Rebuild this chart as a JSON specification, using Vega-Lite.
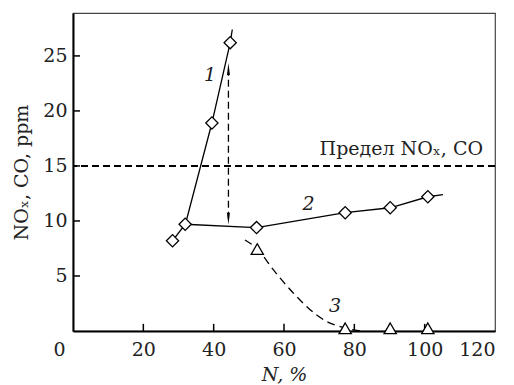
{
  "$schema": "https://vega.github.io/schema/vega-lite/v6.json",
  "width": 422,
  "height": 318,
  "autosize": {"type": "none"},
  "padding": {"left": 73, "top": 13, "right": 19, "bottom": 54},
  "background": "white",
  "config": {
    "font": "DejaVu Serif",
    "view": {"stroke": "#444", "strokeWidth": 1.2},
    "axis": {
      "grid": false,
      "ticks": false,
      "domainColor": "black",
      "domainWidth": 2,
      "labelFont": "DejaVu Serif",
      "labelFontSize": 19,
      "labelColor": "#222",
      "titleFont": "DejaVu Serif",
      "titleFontSize": 19,
      "titleFontWeight": "normal",
      "titleColor": "#222"
    }
  },
  "datasets": {
    "lines": [
      {"curve": "1", "N": 32.2, "v": 10.0},
      {"curve": "1", "N": 39.5, "v": 18.9},
      {"curve": "1", "N": 44.7, "v": 26.2},
      {"curve": "1", "N": 45.3, "v": 27.4},
      {"curve": "2", "N": 28.3, "v": 8.2},
      {"curve": "2", "N": 31.9, "v": 9.7},
      {"curve": "2", "N": 52.2, "v": 9.4},
      {"curve": "2", "N": 77.4, "v": 10.75},
      {"curve": "2", "N": 90.2, "v": 11.2},
      {"curve": "2", "N": 100.9, "v": 12.2},
      {"curve": "2", "N": 105.2, "v": 12.4}
    ],
    "curve3": [
      {"N": 48.9, "v": 8.27},
      {"N": 52.4, "v": 7.45},
      {"N": 57.0, "v": 5.55},
      {"N": 62.7, "v": 3.43},
      {"N": 69.3, "v": 1.45},
      {"N": 72.6, "v": 0.79},
      {"N": 76.0, "v": 0.39},
      {"N": 81.7, "v": 0.0}
    ],
    "diamonds": [
      {"N": 28.3, "v": 8.2},
      {"N": 31.9, "v": 9.7},
      {"N": 39.5, "v": 18.9},
      {"N": 44.7, "v": 26.2},
      {"N": 52.2, "v": 9.4},
      {"N": 77.4, "v": 10.75},
      {"N": 90.2, "v": 11.2},
      {"N": 100.9, "v": 12.2}
    ],
    "triangles": [
      {"N": 52.4, "v": 7.45},
      {"N": 77.4, "v": 0.25},
      {"N": 90.2, "v": 0.25},
      {"N": 100.9, "v": 0.25}
    ],
    "xticks": [
      {"N": 20, "v": 0, "v2": 0.65},
      {"N": 40, "v": 0, "v2": 0.65},
      {"N": 60, "v": 0, "v2": 0.65},
      {"N": 80, "v": 0, "v2": 0.65},
      {"N": 100, "v": 0, "v2": 0.65}
    ],
    "yticks": [
      {"N": 0, "N2": 2.0, "v": 5},
      {"N": 0, "N2": 2.0, "v": 10},
      {"N": 0, "N2": 2.0, "v": 15},
      {"N": 0, "N2": 2.0, "v": 20},
      {"N": 0, "N2": 2.0, "v": 25}
    ],
    "arrow": [{"N": 44.2, "v": 10.2, "v2": 23.5}],
    "heads": [
      {"N": 44.2, "v": 23.8, "dir": "up"},
      {"N": 44.2, "v": 10.2, "dir": "down"}
    ],
    "labels": [
      {"N": 39.0, "v": 22.7, "t": "1"},
      {"N": 67.0, "v": 11.0, "t": "2"},
      {"N": 74.5, "v": 1.75, "t": "3"}
    ],
    "limit": [{"N": 116.6, "v": 16.0, "t": "Предел NOₓ, CO"}]
  },
  "layer": [
    {
      "data": {"name": "lines"},
      "mark": {"type": "rule", "strokeDash": [7, 4], "color": "black", "strokeWidth": 1.2},
      "encoding": {
        "y": {"datum": 15, "type": "quantitative", "scale": {"domain": [0, 28.9], "nice": false, "zero": false},
          "axis": {"values": [5, 10, 15, 20, 25], "labelPadding": 6,
            "title": "NOₓ, CO, ppm", "titlePadding": 11}}
      }
    },
    {
      "data": {"name": "lines"},
      "mark": {"type": "line", "color": "black", "strokeWidth": 1.3},
      "encoding": {
        "x": {"field": "N", "type": "quantitative", "scale": {"domain": [0, 120], "nice": false},
          "axis": {"values": [0, 20, 40, 60, 80, 100, 120], "labelPadding": 9,
            "labelOffset": {"condition": {"test": "datum.value == 0", "value": -20}, "value": 0},
            "title": "N, %", "titleFontStyle": "italic", "titlePadding": 6}},
        "y": {"field": "v", "type": "quantitative"},
        "detail": {"field": "curve"}
      }
    },
    {
      "data": {"name": "xticks"},
      "mark": {"type": "rule", "color": "black", "strokeWidth": 1.5},
      "encoding": {
        "x": {"field": "N", "type": "quantitative"},
        "y": {"field": "v", "type": "quantitative"},
        "y2": {"field": "v2"}
      }
    },
    {
      "data": {"name": "yticks"},
      "mark": {"type": "rule", "color": "black", "strokeWidth": 1.5},
      "encoding": {
        "x": {"field": "N", "type": "quantitative"},
        "x2": {"field": "N2"},
        "y": {"field": "v", "type": "quantitative"}
      }
    },
    {
      "data": {"name": "curve3"},
      "mark": {"type": "line", "color": "black", "strokeWidth": 1.3, "strokeDash": [8, 5], "interpolate": "monotone"},
      "encoding": {
        "x": {"field": "N", "type": "quantitative"},
        "y": {"field": "v", "type": "quantitative"}
      }
    },
    {
      "data": {"name": "arrow"},
      "mark": {"type": "rule", "color": "black", "strokeWidth": 1.3, "strokeDash": [7, 4]},
      "encoding": {
        "x": {"field": "N", "type": "quantitative"},
        "y": {"field": "v", "type": "quantitative"},
        "y2": {"field": "v2"}
      }
    },
    {
      "data": {"name": "heads"},
      "mark": {"type": "point", "filled": true, "color": "black", "opacity": 1, "size": 144},
      "encoding": {
        "x": {"field": "N", "type": "quantitative"},
        "y": {"field": "v", "type": "quantitative"},
        "shape": {"field": "dir", "type": "nominal", "legend": null,
          "scale": {"domain": ["up", "down"], "range": ["M0,-1L0.25,1L-0.25,1Z", "M0,1L0.25,-1L-0.25,-1Z"]}}
      }
    },
    {
      "data": {"name": "diamonds"},
      "mark": {"type": "point", "shape": "diamond", "filled": true, "fill": "white", "stroke": "black", "strokeWidth": 1.3, "size": 150, "opacity": 1},
      "encoding": {
        "x": {"field": "N", "type": "quantitative"},
        "y": {"field": "v", "type": "quantitative"}
      }
    },
    {
      "data": {"name": "triangles"},
      "mark": {"type": "point", "shape": "triangle-up", "filled": true, "fill": "white", "stroke": "black", "strokeWidth": 1.3, "size": 150, "opacity": 1},
      "encoding": {
        "x": {"field": "N", "type": "quantitative"},
        "y": {"field": "v", "type": "quantitative"}
      }
    },
    {
      "data": {"name": "labels"},
      "mark": {"type": "text", "font": "DejaVu Serif", "fontStyle": "italic", "fontSize": 19, "color": "#222", "align": "center", "baseline": "alphabetic"},
      "encoding": {
        "x": {"field": "N", "type": "quantitative"},
        "y": {"field": "v", "type": "quantitative"},
        "text": {"field": "t"}
      }
    },
    {
      "data": {"name": "limit"},
      "mark": {"type": "text", "font": "DejaVu Serif", "fontSize": 19, "color": "#222", "align": "right", "baseline": "alphabetic"},
      "encoding": {
        "x": {"field": "N", "type": "quantitative"},
        "y": {"field": "v", "type": "quantitative"},
        "text": {"field": "t"}
      }
    }
  ]
}
